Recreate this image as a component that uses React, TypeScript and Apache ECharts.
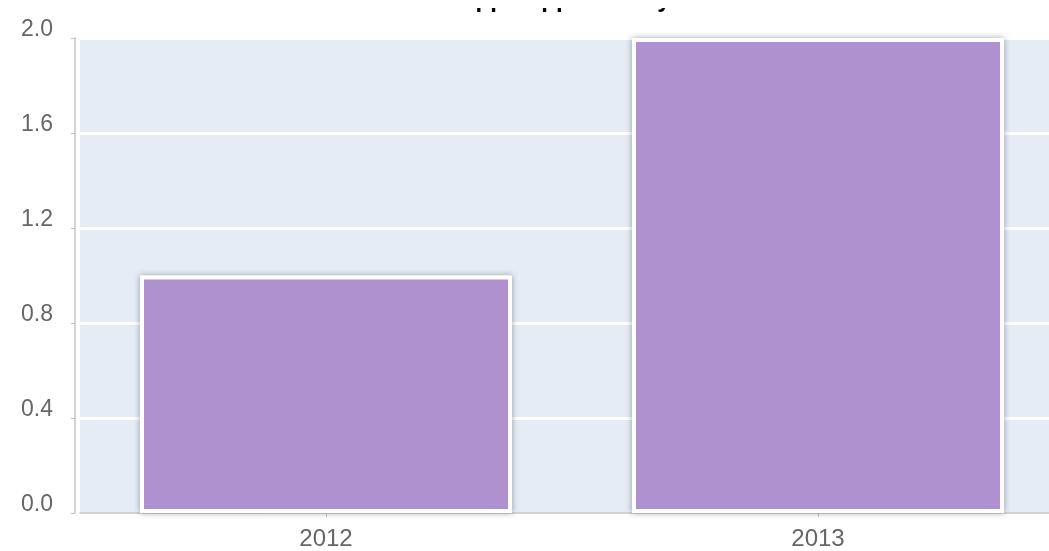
import React, { useEffect, useRef } from "react";
import * as echarts from "echarts";

const titleText = "Number of Apps Approved by Year";
const categories = ["2012", "2013"];
const values = [1.0, 2.0];
const yTicks = [0, 0.4, 0.8, 1.2, 1.6, 2.0];

export default function App() {
  const ref = useRef<HTMLDivElement>(null);
  useEffect(() => {
    if (!ref.current) return;
    const chart = echarts.init(ref.current, undefined, { renderer: "svg" });
    const font = "Liberation Sans, Arial, Helvetica, sans-serif";
    chart.setOption({
      animation: false,
      title: {
        text: titleText,
        left: 517,
        top: -27,
        textAlign: "center",
        textStyle: { fontSize: 24, fontWeight: "bold", color: "#000", fontFamily: font },
      },
      grid: {
        left: 72,
        right: 4,
        top: 30,
        bottom: 38,
        show: true,
        backgroundColor: "#e5ecf6",
        borderWidth: 0,
      },
      xAxis: {
        type: "category",
        data: categories,
        offset: 5,
        axisLine: { show: true, lineStyle: { color: "#c4c4c4", width: 1.5 } },
        axisTick: { show: true, alignWithLabel: true, length: 4, lineStyle: { color: "#c4c4c4" } },
        axisLabel: { fontSize: 24, color: "#666", margin: 7, fontFamily: font },
        splitLine: { show: false },
      },
      yAxis: {
        type: "value",
        min: 0,
        max: 2.0,
        interval: 0.4,
        offset: 5,
        axisLine: { show: true, lineStyle: { color: "#c4c4c4", width: 1.5 } },
        axisTick: { show: true, length: 4, lineStyle: { color: "#c4c4c4" } },
        axisLabel: {
          fontSize: 23,
          color: "#666",
          margin: 22,
          verticalAlign: "bottom",
          lineHeight: 20,
          fontFamily: font,
          formatter: (v: number) => (yTicks.includes(Math.round(v * 10) / 10) ? v.toFixed(1) : ""),
        },
        splitLine: { show: true, lineStyle: { color: "#ffffff", width: 3 } },
      },
      series: [
        {
          type: "bar",
          data: values,
          barWidth: 372,
          itemStyle: {
            color: "#af91cf",
            borderColor: "#ffffff",
            borderWidth: 4,
            shadowBlur: 6,
            shadowColor: "rgba(0,0,0,0.35)",
          },
        },
      ],
    });
    return () => chart.dispose();
  }, []);
  return (
    <div
      style={{
        position: "fixed",
        left: 8,
        top: 8,
        width: 1041,
        height: 543,
        overflow: "hidden",
      }}
    >
      <div ref={ref} style={{ width: 1060, height: 543 }} />
    </div>
  );
}
